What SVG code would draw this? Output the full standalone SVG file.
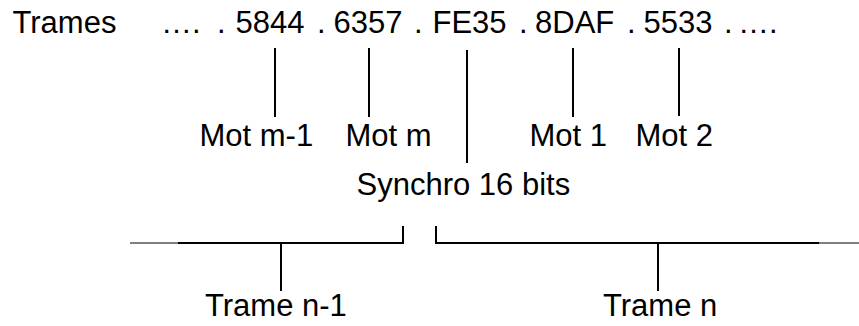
<svg xmlns="http://www.w3.org/2000/svg" width="859" height="326" viewBox="0 0 859 326">
<style>
text{font-family:"Liberation Sans",Arial,sans-serif;font-size:31px;fill:#000}
.c{stroke:#000;stroke-width:2;fill:none}
.t{stroke:#000;stroke-width:1;fill:none}
</style>
<rect width="859" height="326" fill="#fff"/>
<g id="trames">
<text x="12.5" y="33">Trames</text>
<text y="33"><tspan x="161">….</tspan><tspan x="217">.</tspan><tspan x="235.5">5844</tspan><tspan x="317">.</tspan><tspan x="333.5">6357</tspan><tspan x="414">.</tspan><tspan x="432.5">FE35</tspan><tspan x="519">.</tspan><tspan x="535">8DAF</tspan><tspan x="627">.</tspan><tspan x="643.5">5533</tspan><tspan x="724">.</tspan><tspan x="738">….</tspan></text>
</g>
<g id="mot-m-1"><text x="199.5" y="146">Mot m-1</text></g>
<g id="mot-m"><text x="345.5" y="146">Mot m</text></g>
<g id="mot-1"><text x="529.5" y="146">Mot 1</text></g>
<g id="mot-2"><text x="635.5" y="146">Mot 2</text></g>
<g id="synchro"><text x="356.5" y="195">Synchro 16 bits</text></g>
<g id="trame-n-1"><text x="205" y="316">Trame n-1</text></g>
<g id="trame-n"><text x="603" y="316">Trame n</text></g>
<g id="connectors">
<line class="c" x1="275" y1="48" x2="275" y2="117"/>
<line class="c" x1="369" y1="48" x2="369" y2="117"/>
<line class="c" x1="467" y1="50" x2="467" y2="163"/>
<line class="c" x1="573" y1="48" x2="573" y2="117"/>
<line class="c" x1="679" y1="48" x2="679" y2="116"/>
<line class="t" x1="130" y1="243" x2="178" y2="243"/>
<polyline class="c" points="178,243 403,243 403,226"/>
<polyline class="c" points="436,226 436,243 819,243"/>
<line class="t" x1="819" y1="243" x2="859" y2="243"/>
<line class="c" x1="281" y1="243" x2="281" y2="291"/>
<line class="c" x1="658" y1="243" x2="658" y2="291"/>
</g>
</svg>
